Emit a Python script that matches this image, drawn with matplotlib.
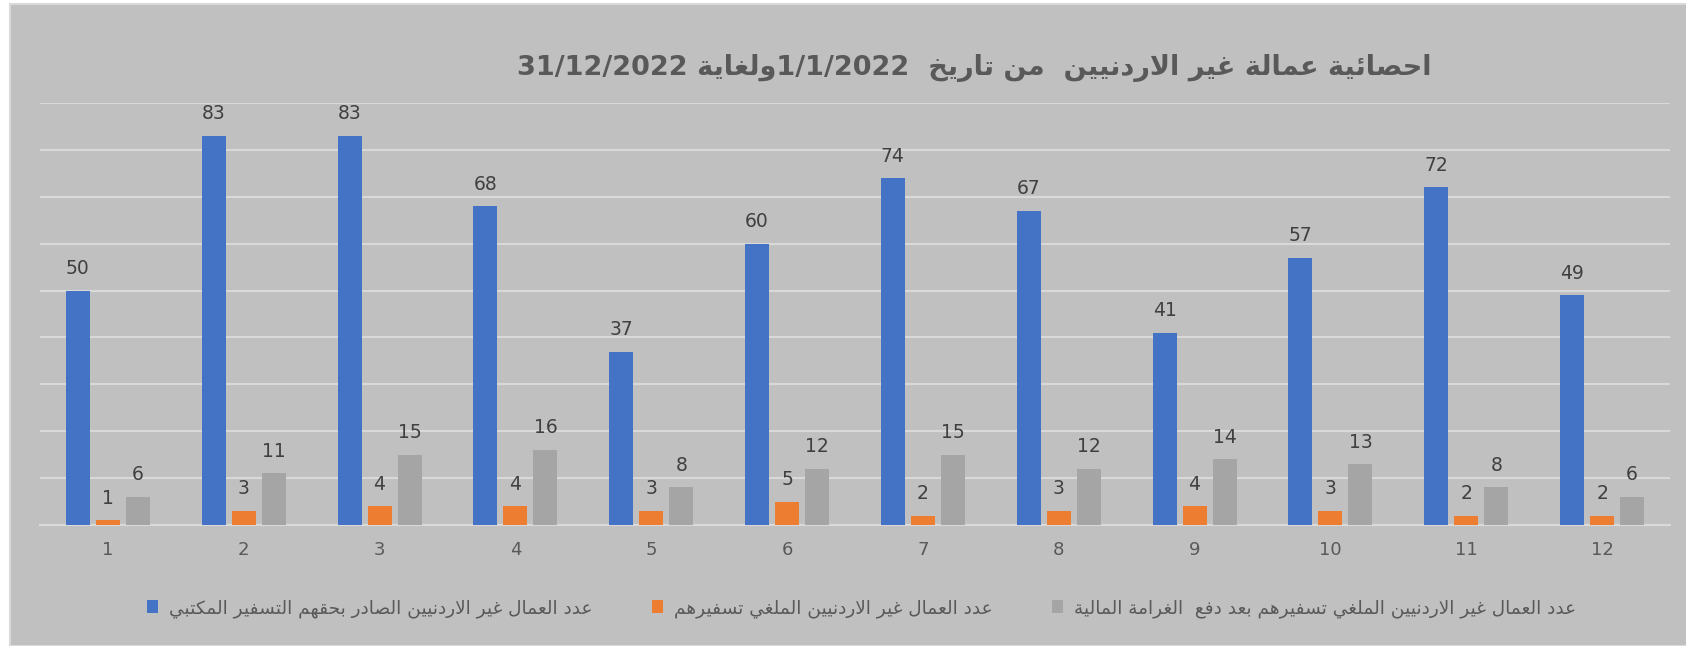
import re
import matplotlib
matplotlib.use("Agg")
import matplotlib.pyplot as plt
import numpy as np
from matplotlib.patches import Rectangle

# monthly counts, 2022
months = ['1', '2', '3', '4', '5', '6', '7', '8', '9', '10', '11', '12']
issued = [50, 83, 83, 68, 37, 60, 74, 67, 41, 57, 72, 49]
cancelled = [1, 3, 4, 4, 3, 5, 2, 3, 4, 3, 2, 2]
cancelled_fine = [6, 11, 15, 16, 8, 12, 15, 12, 14, 13, 8, 6]

title = "احصائية عمالة غير الاردنيين  من تاريخ  1/1/2022ولغاية 31/12/2022"
names = ["عدد العمال غير الاردنيين الصادر بحقهم التسفير المكتبي",
         "عدد العمال غير الاردنيين الملغي تسفيرهم",
         "عدد العمال غير الاردنيين الملغي تسفيرهم بعد دفع  الغرامة المالية"]
colors = ['#4472C4', '#ED7D31', '#A5A5A5']

# matplotlib has no arabic shaping, so map letters to presentation forms by hand
# (first code point, number of forms): 4 = dual joining, 2 = right joining
FORMS = {'ء': (0xFE80, 1), 'آ': (0xFE81, 2), 'أ': (0xFE83, 2), 'ؤ': (0xFE85, 2),
         'إ': (0xFE87, 2), 'ئ': (0xFE89, 4), 'ا': (0xFE8D, 2), 'ب': (0xFE8F, 4),
         'ة': (0xFE93, 2), 'ت': (0xFE95, 4), 'ث': (0xFE99, 4), 'ج': (0xFE9D, 4),
         'ح': (0xFEA1, 4), 'خ': (0xFEA5, 4), 'د': (0xFEA9, 2), 'ذ': (0xFEAB, 2),
         'ر': (0xFEAD, 2), 'ز': (0xFEAF, 2), 'س': (0xFEB1, 4), 'ش': (0xFEB5, 4),
         'ص': (0xFEB9, 4), 'ض': (0xFEBD, 4), 'ط': (0xFEC1, 4), 'ظ': (0xFEC5, 4),
         'ع': (0xFEC9, 4), 'غ': (0xFECD, 4), 'ف': (0xFED1, 4), 'ق': (0xFED5, 4),
         'ك': (0xFED9, 4), 'ل': (0xFEDD, 4), 'م': (0xFEE1, 4), 'ن': (0xFEE5, 4),
         'ه': (0xFEE9, 4), 'و': (0xFEED, 2), 'ى': (0xFEEF, 2), 'ي': (0xFEF1, 4)}
LAM_ALEF = {'ا': 0xFEFB, 'أ': 0xFEF7, 'إ': 0xFEF9, 'آ': 0xFEF5}


def shape(text):
    out = []
    prev_joins = False
    i = 0
    while i < len(text):
        c = text[i]
        nxt = text[i + 1] if i + 1 < len(text) else ''
        if c not in FORMS:
            out.append(c)
            prev_joins = False
            i += 1
            continue
        if c == 'ل' and nxt in LAM_ALEF:
            out.append(chr(LAM_ALEF[nxt] + (1 if prev_joins else 0)))
            prev_joins = False
            i += 2
            continue
        start, nf = FORMS[c]
        to_next = nf == 4 and nxt in FORMS and nxt != 'ء'
        if nf == 1:
            code = start
        elif prev_joins and to_next:
            code = start + 3
        elif prev_joins:
            code = start + 1
        elif to_next:
            code = start + 2
        else:
            code = start
        out.append(chr(code))
        prev_joins = to_next
        i += 1
    return ''.join(out)


def rtl(text):
    parts = re.findall(r'[0-9/]+|[^0-9/]+', shape(text))
    return ''.join(p if p[0].isdigit() else p[::-1] for p in reversed(parts))


plt.rcParams['font.family'] = ['DejaVu Sans']

fig = plt.figure(figsize=(16.86, 6.46), dpi=100, facecolor='white')
fig.patches.append(Rectangle((10 / 1686, 0), 1, 1 - 4 / 646, transform=fig.transFigure,
                             facecolor='#C0C0C0', edgecolor='#D9D9D9', linewidth=1.5,
                             zorder=-10))

ax = fig.add_axes([0.0237, 0.1873, 0.9668, 0.6533])
ax.set_facecolor('none')

x = np.arange(len(months))
step, width = 0.221, 0.177
for k, (vals, col, name) in enumerate(zip([issued, cancelled, cancelled_fine], colors, names)):
    bars = ax.bar(x + (k - 1) * step, vals, width, color=col, label=rtl(name), zorder=3)
    ax.bar_label(bars, padding=9, fontsize=13.5, color='#404040')

ax.set_xlim(-0.5, len(months) - 0.5)
ax.set_ylim(0, 90)
ax.set_yticks(np.arange(0, 91, 10))
ax.yaxis.grid(True, color='#D9D9D9', linewidth=1.5, zorder=0)
ax.set_axisbelow(True)
ax.tick_params(left=False, labelleft=False, bottom=False, pad=8)
ax.set_xticks(x)
ax.set_xticklabels(months, fontsize=13, color='#595959')
for s in ['top', 'right', 'left']:
    ax.spines[s].set_visible(False)
ax.spines['bottom'].set_color('#D9D9D9')
ax.spines['bottom'].set_linewidth(1.5)

fig.text(0.578, 0.895, rtl(title), ha='center', va='center', fontsize=19.5,
         fontweight='bold', color='#595959')

fig.legend(loc='center', bbox_to_anchor=(0.511, 0.058), ncol=3, frameon=False,
           fontsize=13.3, labelcolor='#595959', handlelength=0.6, handleheight=0.7,
           handletextpad=0.6, columnspacing=3.2)

fig.savefig('out.png', dpi=100, facecolor=fig.get_facecolor())
